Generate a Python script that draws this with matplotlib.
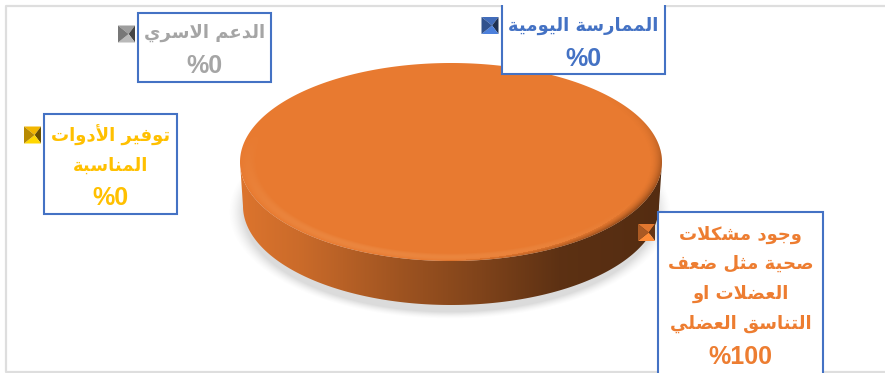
import unicodedata

import numpy as np
import matplotlib
matplotlib.use("Agg")
import matplotlib.pyplot as plt
from matplotlib.patches import Polygon, PathPatch, Rectangle
from matplotlib.path import Path

W, H = 885, 373

# ---------------- Data ----------------

categories = [
    "الممارسة اليومية",
    "توفير الأدوات المناسبة",
    "الدعم الاسري",
    "وجود مشكلات صحية مثل ضعف العضلات او التناسق العضلي",
]
values = [0, 0, 0, 100]
wrapped_labels = [
    ["الممارسة اليومية"],
    ["توفير الأدوات", "المناسبة"],
    ["الدعم الاسري"],
    ["وجود مشكلات", "صحية مثل ضعف", "العضلات او", "التناسق العضلي"],
]
colors = ["#4472C4", "#FFC000", "#A5A5A5", "#ED7D31"]

# ---------------- Layout (pixels) ----------------

boxes = [(502, 2, 665, 74), (44, 114, 177, 214), (138, 13, 271, 82), (658, 212, 823, 385)]
baselines = [[31, 66], [142, 171, 205], [38, 73], [240, 269, 299, 329, 364]]
marker_spots = [(490, 25.5), (32.5, 135), (126.5, 34), (646.5, 232.5)]

CX, CY, RX, RY = 451, 162, 211, 99
BOTTOM_CY, BOTTOM_RX = 206, 208
NAME_SIZE = 13
VALUE_SIZE = 18


def arabic_tables():
    # presentation forms, looked up from the unicode decompositions
    tables = {}
    for cp in range(0xFE70, 0xFEFD):
        parts = unicodedata.decomposition(chr(cp)).split()
        if len(parts) >= 2 and parts[0].startswith("<"):
            seq = "".join(chr(int(p, 16)) for p in parts[1:])
            tables[(parts[0].strip("<>"), seq)] = chr(cp)
    return tables


FORMS = arabic_tables()
RIGHT_ONLY = set("اأإآدذرزوؤةى")
LETTERS = {seq for _, seq in FORMS if len(seq) == 1 and "\u0621" <= seq <= "\u064a"}


def shape(text):
    # matplotlib has no shaping, so join the letters and lay them out right to left
    out = []
    i = 0
    while i < len(text):
        ch = text[i]
        if ch not in LETTERS:
            out.append(ch)
            i += 1
            continue
        prev = text[i - 1] if i > 0 else " "
        joined_before = prev in LETTERS and prev not in RIGHT_ONLY and prev != "ء"
        following = text[i + 1] if i + 1 < len(text) else " "
        if ch == "ل" and following in "اأإآ":
            out.append(FORMS[("final" if joined_before else "isolated", ch + following)])
            i += 2
            continue
        joined_after = following in LETTERS and ch not in RIGHT_ONLY and ch != "ء"
        if joined_before and joined_after:
            form = "medial"
        elif joined_before:
            form = "final"
        elif joined_after:
            form = "initial"
        else:
            form = "isolated"
        out.append(FORMS.get((form, ch), ch))
        i += 1
    return "".join(reversed(out))


def shade(color, factor):
    rgb = np.array(matplotlib.colors.to_rgb(color))
    return tuple(np.clip(rgb * factor, 0, 1))


def draw_marker(ax, x, y, color, half=8.5):
    corners = [(x - half, y - half), (x + half, y - half), (x + half, y + half), (x - half, y + half)]
    factors = [0.95, 0.42, 1.12, 0.72]  # top, right, bottom, left facets
    for k, factor in enumerate(factors):
        tri = [corners[k], corners[(k + 1) % 4], (x + half * 0.25, y)]
        ax.add_patch(Polygon(tri, closed=True, fc=shade(color, factor), ec="none", zorder=6))


fig = plt.figure(figsize=(W / 100, H / 100), dpi=100)
ax = fig.add_axes([0, 0, 1, 1])
ax.axis("off")

# chart frame
ax.plot([885, 6, 6, 885], [5.5, 5.5, 372, 372], color="#DEDEDE", lw=1.6, zorder=1)

yy, xx = np.mgrid[0:H, 0:W] + 0.5

# soft shadow under the disc
rr = np.hypot((xx - 450) / 215, (yy - 212) / 104)
shadow = np.zeros((H, W, 4))
shadow[..., :3] = 0.5
shadow[..., 3] = 0.28 * np.clip((1.03 - rr) / 0.07, 0, 1) ** 1.5
ax.imshow(shadow, extent=(0, W, H, 0), zorder=2, aspect="auto")

# pie slices: only shares above zero take up any of the disc
shares = np.array(values) / sum(values)
edges = np.concatenate([[0], np.cumsum(shares)]) * 2 * np.pi

for k, share in enumerate(shares):
    if share == 0:
        continue
    th = np.linspace(edges[k], edges[k + 1], 361)
    top_x = CX + RX * np.cos(th)
    top_y = CY + RY * np.sin(th)

    # side wall, dark towards the right
    front = np.sin(th) >= 0
    side_pts = np.vstack([
        np.column_stack([top_x[front], top_y[front]]),
        np.column_stack([CX + BOTTOM_RX * np.cos(th[front])[::-1],
                         BOTTOM_CY + RY * np.sin(th[front])[::-1]]),
    ])
    side_path = Path(np.vstack([side_pts, side_pts[0]]), closed=True)
    stops = np.array([240, 300, 400, 480, 560, 662])
    tint = np.array([1.0, 0.92, 0.72, 0.58, 0.42, 0.38])
    wall = np.zeros((H, W, 3))
    factor = np.interp(xx, stops, tint)
    wall[...] = np.array(matplotlib.colors.to_rgb(colors[k])) * 0.93
    wall *= factor[..., None]
    im = ax.imshow(wall, extent=(0, W, H, 0), zorder=3, aspect="auto")
    im.set_clip_path(PathPatch(side_path, transform=ax.transData))

    # top face, slightly muted against the legend orange
    top_pts = np.column_stack([top_x, top_y])
    ax.add_patch(Polygon(top_pts, closed=True, fc=shade(colors[k], 0.98), ec="none", zorder=4))

    # bevel along the rim
    dx, dy = (xx - CX) / RX, (yy - CY) / RY
    r = np.hypot(dx, dy)
    nx, ny = dx / np.maximum(r, 1e-6), dy / np.maximum(r, 1e-6)
    band = np.clip((r - 0.92) / 0.08, 0, 1)
    light = 0.13 * np.sin(np.pi * band) * np.clip(-0.35 * nx + 0.94 * ny, 0, 1)
    dark = 0.5 * np.clip((r - 0.94) / 0.06, 0, 1) ** 2 * np.clip(0.85 * nx + 0.5 * ny, 0, 1) ** 3
    rim = np.zeros((H, W, 4))
    rim[..., :3] = np.where(light[..., None] > dark[..., None], [1.0, 0.85, 0.65], [0.2, 0.08, 0.0])
    rim[..., 3] = np.maximum(light, dark)
    im = ax.imshow(rim, extent=(0, W, H, 0), zorder=5, aspect="auto")
    im.set_clip_path(PathPatch(Path(np.vstack([top_pts, top_pts[0]]), closed=True), transform=ax.transData))

ax.set_xlim(0, W)
ax.set_ylim(H, 0)

# ---------------- Data labels ----------------

for k, value in enumerate(values):
    x0, y0, x1, y1 = boxes[k]
    ax.add_patch(Rectangle((x0, y0), x1 - x0, y1 - y0, fc="white", ec="#4472C4", lw=1.5, zorder=7))
    x_mid = (x0 + x1) / 2
    for row, base in zip(wrapped_labels[k], baselines[k]):
        ax.text(x_mid, base, shape(row), color=colors[k], fontsize=NAME_SIZE, fontweight="bold",
                family="DejaVu Sans", ha="center", va="baseline", zorder=8)
    ax.text(x_mid, baselines[k][-1], f"%{value}", color=colors[k], fontsize=VALUE_SIZE, fontweight="bold",
            family="Liberation Sans", ha="center", va="baseline", zorder=8)
    draw_marker(ax, marker_spots[k][0], marker_spots[k][1], colors[k])

# the two boxes that run past the frame are cut off at it
ax.add_patch(Rectangle((0, 372.8), W, 2, fc="white", ec="none", zorder=9))
ax.add_patch(Rectangle((450, 0), 300, 4.8, fc="white", ec="none", zorder=9))

fig.savefig("out.png", dpi=100)
